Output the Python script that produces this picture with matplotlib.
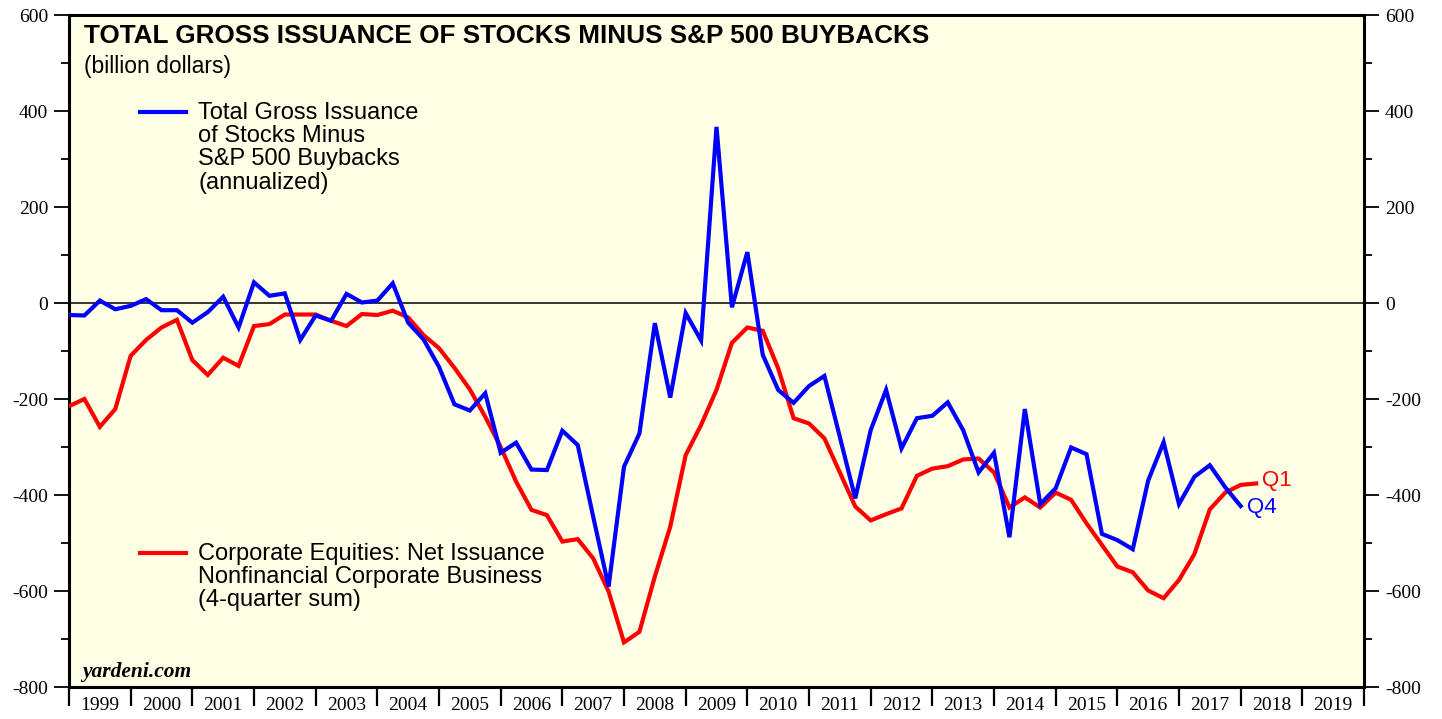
import matplotlib
matplotlib.use("Agg")
import matplotlib.pyplot as plt
from matplotlib.ticker import MultipleLocator, FixedLocator, NullFormatter, FixedFormatter
import pandas as pd

plt.rcParams["axes.unicode_minus"] = False

# ---------------- data ----------------
blue_start, blue_end = "1998Q4", "2017Q4"
red_start, red_end = "1998Q4", "2018Q1"

gross_minus_buybacks = [
    -25, -26, 5, -13,
    -6, 8, -15, -15,
    -41, -19, 13, -51,
    43, 15, 20, -77,
    -26, -37, 19, 1,
    5, 41, -41, -76,
    -133, -211, -224, -188,
    -312, -291, -347, -348,
    -266, -296, -445, -591,
    -341, -272, -42, -197,
    -21, -78, 367, -9,
    106, -108, -181, -208,
    -173, -152, -279, -407,
    -265, -181, -303, -240,
    -235, -207, -265, -353,
    -312, -488, -221, -419,
    -386, -301, -315, -481,
    -494, -513, -370, -290,
    -419, -362, -338, -384,
    -423,
]

net_issuance_nonfin = [
    -215, -200, -258, -221,
    -110, -77, -51, -35,
    -119, -150, -114, -131,
    -48, -44, -24, -24,
    -24, -37, -48, -23,
    -25, -16, -30, -67,
    -94, -135, -180, -237,
    -300, -372, -431, -442,
    -497, -492, -532, -601,
    -707, -685, -570, -466,
    -317, -254, -181, -83,
    -51, -58, -136, -240,
    -251, -282, -353, -424,
    -453, -440, -428, -360,
    -345, -340, -326, -324,
    -353, -426, -405, -426,
    -395, -410, -459, -504,
    -549, -561, -599, -615,
    -577, -523, -430, -395,
    -379, -376,
]

years = list(range(1999, 2020))
year_labels = [str(y) for y in years]
y_ticks = [600, 400, 200, 0, -200, -400, -600, -800]

title = "TOTAL GROSS ISSUANCE OF STOCKS MINUS S&P 500 BUYBACKS"
subtitle = "(billion dollars)"
blue_label = "Total Gross Issuance\nof Stocks Minus\nS&P 500 Buybacks\n(annualized)"
red_label = "Corporate Equities: Net Issuance\nNonfinancial Corporate Business\n(4-quarter sum)"

# ---------------- helpers ----------------
def quarter_positions(start, end):
    p = pd.period_range(start, end, freq="Q")
    return [q.year + q.quarter / 4 for q in p]

xb = quarter_positions(blue_start, blue_end)
xr = quarter_positions(red_start, red_end)

W, H = 1442, 719
fig = plt.figure(figsize=(W / 100, H / 100), dpi=100)
fig.patch.set_facecolor("white")
L, R, T, B = 69, 1364, 15, 687
ax = fig.add_axes([L / W, (H - B) / H, (R - L) / W, (B - T) / H])
ax.set_facecolor("#FFFFE6")

BLUE = "#0000FF"
RED = "#FF0000"
ax.axhline(0, color="black", lw=1.1, zorder=2)
ax.plot(xb, gross_minus_buybacks, color=BLUE, lw=3.0, zorder=4, solid_joinstyle="miter")
ax.plot(xr, net_issuance_nonfin, color=RED, lw=3.0, zorder=3, solid_joinstyle="miter")

ax.set_xlim(years[0], years[-1] + 1)
ax.set_ylim(-800, 600)

for s in ax.spines.values():
    s.set_linewidth(2.2)
    s.set_color("black")

serif = "Liberation Serif"
sans = "Liberation Sans"

# y axis ticks on both sides
ax.yaxis.set_major_locator(FixedLocator(y_ticks))
ax.yaxis.set_minor_locator(MultipleLocator(100))
ax.tick_params(axis="y", which="major", direction="out", length=11, width=1.3,
               left=True, right=True, labelleft=True, labelright=True, pad=4,
               labelsize=14)
ax.tick_params(axis="y", which="minor", direction="out", length=6, width=1.3,
               left=True, right=True)
for lab in ax.get_yticklabels():
    lab.set_fontfamily(serif)

# x axis: ticks at year boundaries, labels centred in years
ax.xaxis.set_major_locator(FixedLocator(years + [years[-1] + 1]))
ax.xaxis.set_major_formatter(NullFormatter())
ax.xaxis.set_minor_locator(FixedLocator([y + 0.5 for y in years]))
ax.xaxis.set_minor_formatter(FixedFormatter(year_labels))
ax.tick_params(axis="x", which="major", direction="out", length=14, width=1.6, bottom=True, top=False)
ax.tick_params(axis="x", which="minor", length=0, pad=7, labelsize=14)
for lab in ax.get_xticklabels(minor=True):
    lab.set_fontfamily(serif)

# texts
def px(x, y):
    return x / W, 1 - y / H

fig.text(*px(84, 36), title, fontsize=18.8, fontweight="bold", family=sans, va="center", ha="left")
fig.text(*px(84, 66), subtitle, fontsize=16.5, family=sans, va="center", ha="left")

# legend entries
fig.add_artist(plt.Line2D([140 / W, 186 / W], [1 - 112 / H] * 2, color=BLUE, lw=3.0))
fig.text(*px(198, 102), blue_label, fontsize=17, family=sans, va="top", ha="left", linespacing=1.07)
fig.add_artist(plt.Line2D([140 / W, 186 / W], [1 - 553 / H] * 2, color=RED, lw=3.0))
fig.text(*px(198, 543), red_label, fontsize=17, family=sans, va="top", ha="left", linespacing=1.07)

# end labels
ax.annotate("Q1", xy=(xr[-1], net_issuance_nonfin[-1]), xytext=(4.5, 2), textcoords="offset points",
            color=RED, fontsize=16, family=sans, va="center", ha="left")
ax.annotate("Q4", xy=(xb[-1], gross_minus_buybacks[-1]), xytext=(4.5, -1), textcoords="offset points",
            color=BLUE, fontsize=16, family=sans, va="center", ha="left")

fig.text(*px(82, 672), "yardeni.com", fontsize=15.5, family=serif, style="italic", fontweight="bold",
         va="center", ha="left")

fig.savefig("out.png", dpi=100)
